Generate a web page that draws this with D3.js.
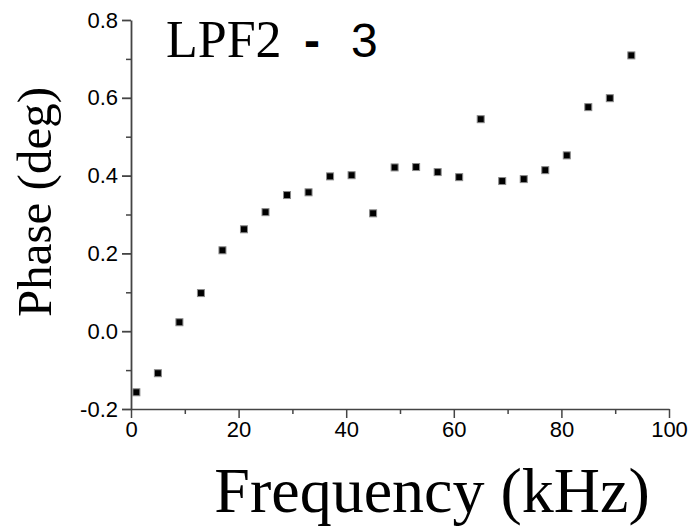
<!DOCTYPE html>
<html>
<head>
<meta charset="utf-8" />
<style>
  html, body { margin: 0; padding: 0; background: #fff; }
  .axis path, .axis line { stroke: #444; }
  .axis text { font-family: "Liberation Sans", Arial, sans-serif; fill: #000; }
  .dot { fill: #000; stroke: #8a8a8a; stroke-width: 1px; }
</style>
</head>
<body>
<div id="vis"></div>
<script src="https://d3js.org/d3.v7.min.js"></script>
<script>
(function() {
  // ** DATA **
  var freq  = [1, 5, 9, 13, 17, 21, 25, 29, 33, 37, 41, 45, 49, 53, 57, 61, 65, 69, 73, 77, 81, 85, 89, 93];
  var phase = [-0.157, -0.108, 0.023, 0.098, 0.208, 0.262, 0.306, 0.350, 0.357, 0.398, 0.401, 0.303,
               0.421, 0.422, 0.409, 0.396, 0.545, 0.386, 0.391, 0.414, 0.452, 0.576, 0.599, 0.709];
  var xTicks = [0, 20, 40, 60, 80, 100];
  var yTicks = [-0.2, 0.0, 0.2, 0.4, 0.6, 0.8];
  var yTickLabels = ["-0.2", "0.0", "0.2", "0.4", "0.6", "0.8"];

  var W = 693, H = 527;

  var svg = d3.select("#vis").append("svg")
    .attr("width", W).attr("height", H);

  var x = d3.scaleLinear().domain([0, 100]).range([131, 669]);
  var y = d3.scaleLinear().domain([-0.2, 0.8]).range([409, 20]);

  // minor ticks first, so major ones sit on top
  var xMinor = d3.axisBottom(x).tickValues(d3.range(10, 100, 20)).tickSize(5).tickFormat("");
  var yMinor = d3.axisLeft(y).tickValues(d3.range(-0.1, 0.8, 0.2)).tickSize(5).tickFormat("");

  svg.append("g").attr("class", "axis")
    .attr("transform", "translate(0," + y(-0.2) + ")")
    .call(xMinor).call(function(g) { g.select(".domain").remove(); })
    .selectAll("line").attr("stroke-width", 1.5);
  svg.append("g").attr("class", "axis")
    .attr("transform", "translate(" + x(0) + ",0)")
    .call(yMinor).call(function(g) { g.select(".domain").remove(); })
    .selectAll("line").attr("stroke-width", 1.5);

  var xAxis = d3.axisBottom(x).tickValues(xTicks).tickSize(9).tickSizeOuter(0).tickPadding(3);
  var yAxis = d3.axisLeft(y).tickValues(yTicks).tickSize(9).tickSizeOuter(0).tickPadding(4)
    .tickFormat(function(d, i) { return yTickLabels[i]; });

  var gx = svg.append("g").attr("class", "axis")
    .attr("transform", "translate(0," + y(-0.2) + ")")
    .call(xAxis);
  gx.selectAll("text").attr("font-size", 22);
  gx.selectAll("path, line").attr("stroke-width", 1.5);

  var gy = svg.append("g").attr("class", "axis")
    .attr("transform", "translate(" + x(0) + ",0)")
    .call(yAxis);
  gy.selectAll("text").attr("font-size", 22);
  gy.selectAll("path, line").attr("stroke-width", 1.8);

  // ** POINTS **
  var s = 7;
  svg.selectAll(".dot")
    .data(freq)
    .enter().append("rect")
      .attr("class", "dot")
      .attr("x", function(d) { return x(d) - s / 2; })
      .attr("y", function(d, i) { return y(phase[i]) - s / 2; })
      .attr("width", s).attr("height", s);

  // ** LABELS **
  svg.append("text")
    .attr("x", 432).attr("y", 512)
    .attr("text-anchor", "middle")
    .style("font-family", "'Liberation Serif', 'Times New Roman', serif")
    .style("font-size", "64px")
    .text("Frequency (kHz)");

  svg.append("text")
    .attr("transform", "translate(51,202) rotate(-90)")
    .attr("text-anchor", "middle")
    .style("font-family", "'Liberation Serif', 'Times New Roman', serif")
    .style("font-size", "49px")
    .text("Phase (deg)");

  var title = svg.append("g");
  title.append("text")
    .attr("x", 166).attr("y", 57)
    .style("font-family", "'Liberation Serif', 'Times New Roman', serif")
    .style("font-size", "52px")
    .text("LPF2");
  title.append("text")
    .attr("x", 304).attr("y", 57)
    .style("font-family", "'Liberation Sans', Arial, sans-serif")
    .style("font-size", "48px")
    .style("font-weight", "bold")
    .text("-");
  title.append("text")
    .attr("x", 351).attr("y", 57)
    .style("font-family", "'Liberation Sans', Arial, sans-serif")
    .style("font-size", "48px")
    .text("3");
})();
</script>
</body>
</html>
